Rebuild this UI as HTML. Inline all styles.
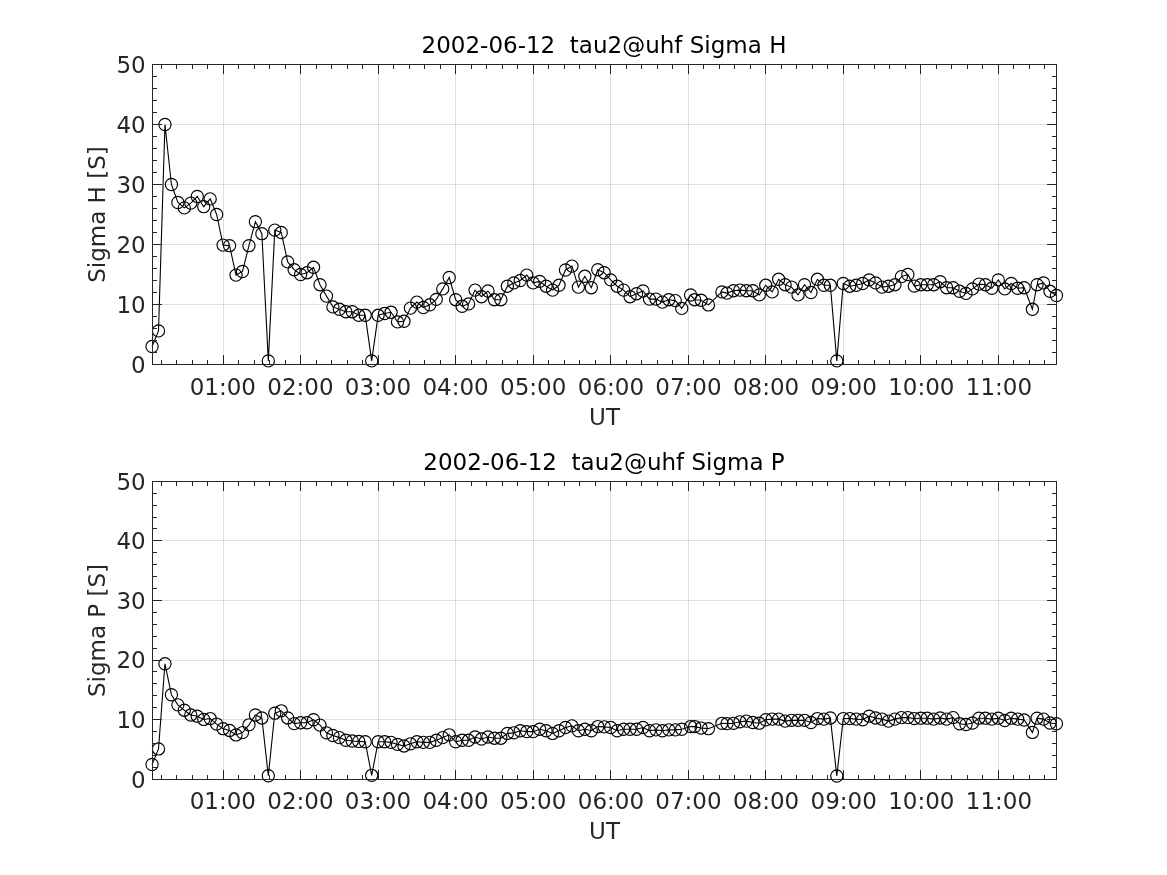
<!DOCTYPE html>
<html><head><meta charset="utf-8"><title>Sigma H / Sigma P</title>
<style>html,body{margin:0;padding:0;background:#fff;width:1167px;height:875px;overflow:hidden}</style>
</head><body>
<svg width="1167" height="875" viewBox="0 0 1167 875" style="display:block;font-family:'DejaVu Sans',sans-serif;font-size:23px;will-change:transform">
<rect width="1167" height="875" fill="#fff"/>
<path d="M223.5 64.5V364.5M300.5 64.5V364.5M378.5 64.5V364.5M455.5 64.5V364.5M533.5 64.5V364.5M610.5 64.5V364.5M688.5 64.5V364.5M765.5 64.5V364.5M843.5 64.5V364.5M920.5 64.5V364.5M998.5 64.5V364.5" stroke="#262626" stroke-opacity="0.15" stroke-width="1" fill="none" shape-rendering="crispEdges"/>
<path d="M152.5 304.5H1056.5M152.5 244.5H1056.5M152.5 184.5H1056.5M152.5 124.5H1056.5" stroke="#262626" stroke-opacity="0.15" stroke-width="1" fill="none" shape-rendering="crispEdges"/>
<path d="M152.04 346.50 L158.50 330.90 L164.96 124.50 L171.42 184.50 L177.88 202.50 L184.34 207.90 L190.80 203.10 L197.26 196.50 L203.72 206.70 L210.18 198.90 L216.64 214.50 L223.10 245.10 L229.56 245.70 L236.02 275.10 L242.48 271.50 L248.94 245.70 L255.40 221.70 L261.86 233.70 L268.32 360.90 L274.78 230.10 L281.24 232.50 L287.70 261.90 L294.16 269.70 L300.62 274.50 L307.08 272.70 L313.54 267.30 L320.00 284.70 L326.46 296.10 L332.92 306.90 L339.38 309.30 L345.84 311.70 L352.30 311.70 L358.76 315.30 L365.22 315.30 L371.68 360.90 L378.14 315.30 L384.60 313.50 L391.06 312.30 L397.52 321.90 L403.98 321.30 L410.44 308.10 L416.90 302.10 L423.36 307.50 L429.82 304.80 L436.28 299.40 L442.74 288.90 L449.20 277.50 L455.66 299.70 L462.12 306.30 L468.58 303.90 L475.04 290.10 L481.50 296.70 L487.96 291.00 L494.42 299.70 L500.88 299.70 L507.34 286.20 L513.80 282.90 L520.26 280.50 L526.72 275.10 L533.18 282.90 L539.64 281.40 L546.10 286.20 L552.56 290.10 L559.02 285.30 L565.48 270.00 L571.94 266.10 L578.40 287.10 L584.86 276.30 L591.32 287.70 L597.78 269.70 L604.24 272.70 L610.70 279.90 L617.16 286.20 L623.62 290.10 L630.08 296.70 L636.54 293.70 L643.00 291.00 L649.46 299.10 L655.92 299.10 L662.38 302.10 L668.84 299.70 L675.30 300.60 L681.76 308.40 L690.60 295.02 L694.68 299.70 L701.14 300.30 L708.40 304.92 L721.90 291.90 L726.98 293.10 L733.44 290.70 L739.90 290.10 L746.36 290.70 L752.82 290.70 L759.28 294.90 L765.74 285.30 L772.20 291.90 L778.66 279.30 L785.12 284.70 L791.58 287.10 L798.04 294.90 L804.50 284.70 L810.96 292.50 L817.42 279.30 L823.88 285.30 L830.34 285.30 L836.80 360.90 L843.26 283.50 L849.72 286.20 L856.18 285.30 L862.64 283.50 L869.10 279.90 L875.56 282.90 L882.02 287.10 L888.48 286.20 L894.94 284.70 L901.40 276.60 L907.86 274.50 L914.32 286.08 L920.78 284.70 L927.24 284.70 L933.70 284.70 L940.16 281.70 L946.62 287.70 L953.08 287.70 L959.54 291.30 L966.00 293.40 L972.46 288.90 L978.92 284.10 L985.38 284.70 L991.84 288.30 L998.30 279.90 L1004.76 288.90 L1011.22 283.50 L1017.68 288.30 L1024.14 287.70 L1032.40 309.30 L1037.06 284.70 L1043.52 282.90 L1049.98 291.30 L1056.44 295.50" stroke="#000" stroke-width="1.1" fill="none" stroke-linejoin="miter"/>
<g stroke="#000" stroke-width="1.15" fill="none"><circle cx="152.04" cy="346.50" r="6.1"/><circle cx="158.50" cy="330.90" r="6.1"/><circle cx="164.96" cy="124.50" r="6.1"/><circle cx="171.42" cy="184.50" r="6.1"/><circle cx="177.88" cy="202.50" r="6.1"/><circle cx="184.34" cy="207.90" r="6.1"/><circle cx="190.80" cy="203.10" r="6.1"/><circle cx="197.26" cy="196.50" r="6.1"/><circle cx="203.72" cy="206.70" r="6.1"/><circle cx="210.18" cy="198.90" r="6.1"/><circle cx="216.64" cy="214.50" r="6.1"/><circle cx="223.10" cy="245.10" r="6.1"/><circle cx="229.56" cy="245.70" r="6.1"/><circle cx="236.02" cy="275.10" r="6.1"/><circle cx="242.48" cy="271.50" r="6.1"/><circle cx="248.94" cy="245.70" r="6.1"/><circle cx="255.40" cy="221.70" r="6.1"/><circle cx="261.86" cy="233.70" r="6.1"/><circle cx="268.32" cy="360.90" r="6.1"/><circle cx="274.78" cy="230.10" r="6.1"/><circle cx="281.24" cy="232.50" r="6.1"/><circle cx="287.70" cy="261.90" r="6.1"/><circle cx="294.16" cy="269.70" r="6.1"/><circle cx="300.62" cy="274.50" r="6.1"/><circle cx="307.08" cy="272.70" r="6.1"/><circle cx="313.54" cy="267.30" r="6.1"/><circle cx="320.00" cy="284.70" r="6.1"/><circle cx="326.46" cy="296.10" r="6.1"/><circle cx="332.92" cy="306.90" r="6.1"/><circle cx="339.38" cy="309.30" r="6.1"/><circle cx="345.84" cy="311.70" r="6.1"/><circle cx="352.30" cy="311.70" r="6.1"/><circle cx="358.76" cy="315.30" r="6.1"/><circle cx="365.22" cy="315.30" r="6.1"/><circle cx="371.68" cy="360.90" r="6.1"/><circle cx="378.14" cy="315.30" r="6.1"/><circle cx="384.60" cy="313.50" r="6.1"/><circle cx="391.06" cy="312.30" r="6.1"/><circle cx="397.52" cy="321.90" r="6.1"/><circle cx="403.98" cy="321.30" r="6.1"/><circle cx="410.44" cy="308.10" r="6.1"/><circle cx="416.90" cy="302.10" r="6.1"/><circle cx="423.36" cy="307.50" r="6.1"/><circle cx="429.82" cy="304.80" r="6.1"/><circle cx="436.28" cy="299.40" r="6.1"/><circle cx="442.74" cy="288.90" r="6.1"/><circle cx="449.20" cy="277.50" r="6.1"/><circle cx="455.66" cy="299.70" r="6.1"/><circle cx="462.12" cy="306.30" r="6.1"/><circle cx="468.58" cy="303.90" r="6.1"/><circle cx="475.04" cy="290.10" r="6.1"/><circle cx="481.50" cy="296.70" r="6.1"/><circle cx="487.96" cy="291.00" r="6.1"/><circle cx="494.42" cy="299.70" r="6.1"/><circle cx="500.88" cy="299.70" r="6.1"/><circle cx="507.34" cy="286.20" r="6.1"/><circle cx="513.80" cy="282.90" r="6.1"/><circle cx="520.26" cy="280.50" r="6.1"/><circle cx="526.72" cy="275.10" r="6.1"/><circle cx="533.18" cy="282.90" r="6.1"/><circle cx="539.64" cy="281.40" r="6.1"/><circle cx="546.10" cy="286.20" r="6.1"/><circle cx="552.56" cy="290.10" r="6.1"/><circle cx="559.02" cy="285.30" r="6.1"/><circle cx="565.48" cy="270.00" r="6.1"/><circle cx="571.94" cy="266.10" r="6.1"/><circle cx="578.40" cy="287.10" r="6.1"/><circle cx="584.86" cy="276.30" r="6.1"/><circle cx="591.32" cy="287.70" r="6.1"/><circle cx="597.78" cy="269.70" r="6.1"/><circle cx="604.24" cy="272.70" r="6.1"/><circle cx="610.70" cy="279.90" r="6.1"/><circle cx="617.16" cy="286.20" r="6.1"/><circle cx="623.62" cy="290.10" r="6.1"/><circle cx="630.08" cy="296.70" r="6.1"/><circle cx="636.54" cy="293.70" r="6.1"/><circle cx="643.00" cy="291.00" r="6.1"/><circle cx="649.46" cy="299.10" r="6.1"/><circle cx="655.92" cy="299.10" r="6.1"/><circle cx="662.38" cy="302.10" r="6.1"/><circle cx="668.84" cy="299.70" r="6.1"/><circle cx="675.30" cy="300.60" r="6.1"/><circle cx="681.76" cy="308.40" r="6.1"/><circle cx="690.60" cy="295.02" r="6.1"/><circle cx="694.68" cy="299.70" r="6.1"/><circle cx="701.14" cy="300.30" r="6.1"/><circle cx="708.40" cy="304.92" r="6.1"/><circle cx="721.90" cy="291.90" r="6.1"/><circle cx="726.98" cy="293.10" r="6.1"/><circle cx="733.44" cy="290.70" r="6.1"/><circle cx="739.90" cy="290.10" r="6.1"/><circle cx="746.36" cy="290.70" r="6.1"/><circle cx="752.82" cy="290.70" r="6.1"/><circle cx="759.28" cy="294.90" r="6.1"/><circle cx="765.74" cy="285.30" r="6.1"/><circle cx="772.20" cy="291.90" r="6.1"/><circle cx="778.66" cy="279.30" r="6.1"/><circle cx="785.12" cy="284.70" r="6.1"/><circle cx="791.58" cy="287.10" r="6.1"/><circle cx="798.04" cy="294.90" r="6.1"/><circle cx="804.50" cy="284.70" r="6.1"/><circle cx="810.96" cy="292.50" r="6.1"/><circle cx="817.42" cy="279.30" r="6.1"/><circle cx="823.88" cy="285.30" r="6.1"/><circle cx="830.34" cy="285.30" r="6.1"/><circle cx="836.80" cy="360.90" r="6.1"/><circle cx="843.26" cy="283.50" r="6.1"/><circle cx="849.72" cy="286.20" r="6.1"/><circle cx="856.18" cy="285.30" r="6.1"/><circle cx="862.64" cy="283.50" r="6.1"/><circle cx="869.10" cy="279.90" r="6.1"/><circle cx="875.56" cy="282.90" r="6.1"/><circle cx="882.02" cy="287.10" r="6.1"/><circle cx="888.48" cy="286.20" r="6.1"/><circle cx="894.94" cy="284.70" r="6.1"/><circle cx="901.40" cy="276.60" r="6.1"/><circle cx="907.86" cy="274.50" r="6.1"/><circle cx="914.32" cy="286.08" r="6.1"/><circle cx="920.78" cy="284.70" r="6.1"/><circle cx="927.24" cy="284.70" r="6.1"/><circle cx="933.70" cy="284.70" r="6.1"/><circle cx="940.16" cy="281.70" r="6.1"/><circle cx="946.62" cy="287.70" r="6.1"/><circle cx="953.08" cy="287.70" r="6.1"/><circle cx="959.54" cy="291.30" r="6.1"/><circle cx="966.00" cy="293.40" r="6.1"/><circle cx="972.46" cy="288.90" r="6.1"/><circle cx="978.92" cy="284.10" r="6.1"/><circle cx="985.38" cy="284.70" r="6.1"/><circle cx="991.84" cy="288.30" r="6.1"/><circle cx="998.30" cy="279.90" r="6.1"/><circle cx="1004.76" cy="288.90" r="6.1"/><circle cx="1011.22" cy="283.50" r="6.1"/><circle cx="1017.68" cy="288.30" r="6.1"/><circle cx="1024.14" cy="287.70" r="6.1"/><circle cx="1032.40" cy="309.30" r="6.1"/><circle cx="1037.06" cy="284.70" r="6.1"/><circle cx="1043.52" cy="282.90" r="6.1"/><circle cx="1049.98" cy="291.30" r="6.1"/><circle cx="1056.44" cy="295.50" r="6.1"/></g>
<path d="M152.5 64.5H1056.5V364.5H152.5ZM223.5 364.5v-9.5M223.5 64.5v9.5M300.5 364.5v-9.5M300.5 64.5v9.5M378.5 364.5v-9.5M378.5 64.5v9.5M455.5 364.5v-9.5M455.5 64.5v9.5M533.5 364.5v-9.5M533.5 64.5v9.5M610.5 364.5v-9.5M610.5 64.5v9.5M688.5 364.5v-9.5M688.5 64.5v9.5M765.5 364.5v-9.5M765.5 64.5v9.5M843.5 364.5v-9.5M843.5 64.5v9.5M920.5 364.5v-9.5M920.5 64.5v9.5M998.5 364.5v-9.5M998.5 64.5v9.5M161.5 364.5v-4.5M161.5 64.5v4.5M176.5 364.5v-4.5M176.5 64.5v4.5M192.5 364.5v-4.5M192.5 64.5v4.5M207.5 364.5v-4.5M207.5 64.5v4.5M238.5 364.5v-4.5M238.5 64.5v4.5M254.5 364.5v-4.5M254.5 64.5v4.5M269.5 364.5v-4.5M269.5 64.5v4.5M285.5 364.5v-4.5M285.5 64.5v4.5M316.5 364.5v-4.5M316.5 64.5v4.5M331.5 364.5v-4.5M331.5 64.5v4.5M347.5 364.5v-4.5M347.5 64.5v4.5M362.5 364.5v-4.5M362.5 64.5v4.5M393.5 364.5v-4.5M393.5 64.5v4.5M409.5 364.5v-4.5M409.5 64.5v4.5M424.5 364.5v-4.5M424.5 64.5v4.5M440.5 364.5v-4.5M440.5 64.5v4.5M471.5 364.5v-4.5M471.5 64.5v4.5M486.5 364.5v-4.5M486.5 64.5v4.5M502.5 364.5v-4.5M502.5 64.5v4.5M517.5 364.5v-4.5M517.5 64.5v4.5M548.5 364.5v-4.5M548.5 64.5v4.5M564.5 364.5v-4.5M564.5 64.5v4.5M579.5 364.5v-4.5M579.5 64.5v4.5M595.5 364.5v-4.5M595.5 64.5v4.5M626.5 364.5v-4.5M626.5 64.5v4.5M641.5 364.5v-4.5M641.5 64.5v4.5M657.5 364.5v-4.5M657.5 64.5v4.5M672.5 364.5v-4.5M672.5 64.5v4.5M703.5 364.5v-4.5M703.5 64.5v4.5M719.5 364.5v-4.5M719.5 64.5v4.5M734.5 364.5v-4.5M734.5 64.5v4.5M750.5 364.5v-4.5M750.5 64.5v4.5M781.5 364.5v-4.5M781.5 64.5v4.5M796.5 364.5v-4.5M796.5 64.5v4.5M812.5 364.5v-4.5M812.5 64.5v4.5M827.5 364.5v-4.5M827.5 64.5v4.5M858.5 364.5v-4.5M858.5 64.5v4.5M874.5 364.5v-4.5M874.5 64.5v4.5M889.5 364.5v-4.5M889.5 64.5v4.5M905.5 364.5v-4.5M905.5 64.5v4.5M936.5 364.5v-4.5M936.5 64.5v4.5M951.5 364.5v-4.5M951.5 64.5v4.5M967.5 364.5v-4.5M967.5 64.5v4.5M982.5 364.5v-4.5M982.5 64.5v4.5M1013.5 364.5v-4.5M1013.5 64.5v4.5M1029.5 364.5v-4.5M1029.5 64.5v4.5M1044.5 364.5v-4.5M1044.5 64.5v4.5M152.5 364.5h9.5M1056.5 364.5h-9.5M152.5 304.5h9.5M1056.5 304.5h-9.5M152.5 244.5h9.5M1056.5 244.5h-9.5M152.5 184.5h9.5M1056.5 184.5h-9.5M152.5 124.5h9.5M1056.5 124.5h-9.5M152.5 64.5h9.5M1056.5 64.5h-9.5M152.5 352.5h4.5M1056.5 352.5h-4.5M152.5 340.5h4.5M1056.5 340.5h-4.5M152.5 328.5h4.5M1056.5 328.5h-4.5M152.5 316.5h4.5M1056.5 316.5h-4.5M152.5 292.5h4.5M1056.5 292.5h-4.5M152.5 280.5h4.5M1056.5 280.5h-4.5M152.5 268.5h4.5M1056.5 268.5h-4.5M152.5 256.5h4.5M1056.5 256.5h-4.5M152.5 232.5h4.5M1056.5 232.5h-4.5M152.5 220.5h4.5M1056.5 220.5h-4.5M152.5 208.5h4.5M1056.5 208.5h-4.5M152.5 196.5h4.5M1056.5 196.5h-4.5M152.5 172.5h4.5M1056.5 172.5h-4.5M152.5 160.5h4.5M1056.5 160.5h-4.5M152.5 148.5h4.5M1056.5 148.5h-4.5M152.5 136.5h4.5M1056.5 136.5h-4.5M152.5 112.5h4.5M1056.5 112.5h-4.5M152.5 100.5h4.5M1056.5 100.5h-4.5M152.5 88.5h4.5M1056.5 88.5h-4.5M152.5 76.5h4.5M1056.5 76.5h-4.5" stroke="#262626" stroke-width="1" fill="none" shape-rendering="crispEdges"/>
<g fill="#262626"><text x="145.7" y="372.9" text-anchor="end">0</text><text x="145.7" y="312.9" text-anchor="end">10</text><text x="145.7" y="252.9" text-anchor="end">20</text><text x="145.7" y="192.9" text-anchor="end">30</text><text x="145.7" y="132.9" text-anchor="end">40</text><text x="145.7" y="72.9" text-anchor="end">50</text><text x="222.8" y="395" text-anchor="middle">01:00</text><text x="300.4" y="395" text-anchor="middle">02:00</text><text x="378.0" y="395" text-anchor="middle">03:00</text><text x="455.6" y="395" text-anchor="middle">04:00</text><text x="533.2" y="395" text-anchor="middle">05:00</text><text x="610.9" y="395" text-anchor="middle">06:00</text><text x="688.5" y="395" text-anchor="middle">07:00</text><text x="766.1" y="395" text-anchor="middle">08:00</text><text x="843.7" y="395" text-anchor="middle">09:00</text><text x="921.3" y="395" text-anchor="middle">10:00</text><text x="998.9" y="395" text-anchor="middle">11:00</text><text x="604.5" y="425" text-anchor="middle">UT</text><text transform="translate(105 214.5) rotate(-90)" text-anchor="middle">Sigma H [S]</text></g>
<text x="604" y="53" text-anchor="middle" fill="#000" xml:space="preserve">2002-06-12  tau2@uhf Sigma H</text>
<path d="M223.5 481.5V779.5M300.5 481.5V779.5M378.5 481.5V779.5M455.5 481.5V779.5M533.5 481.5V779.5M610.5 481.5V779.5M688.5 481.5V779.5M765.5 481.5V779.5M843.5 481.5V779.5M920.5 481.5V779.5M998.5 481.5V779.5" stroke="#262626" stroke-opacity="0.15" stroke-width="1" fill="none" shape-rendering="crispEdges"/>
<path d="M152.5 719.5H1056.5M152.5 660.5H1056.5M152.5 600.5H1056.5M152.5 540.5H1056.5" stroke="#262626" stroke-opacity="0.15" stroke-width="1" fill="none" shape-rendering="crispEdges"/>
<path d="M152.04 764.53 L158.50 748.92 L164.96 663.75 L171.42 694.72 L177.88 704.85 L184.34 710.21 L190.80 714.98 L197.26 716.17 L203.72 719.44 L210.18 718.55 L216.64 724.09 L223.10 728.67 L229.56 730.46 L236.02 734.93 L242.48 732.60 L248.94 724.80 L255.40 714.98 L261.86 717.95 L268.32 775.73 L274.78 713.19 L281.24 710.81 L287.70 717.95 L294.16 723.61 L300.62 722.72 L307.08 722.72 L313.54 719.74 L320.00 725.10 L326.46 732.84 L332.92 735.52 L339.38 737.61 L345.84 740.29 L352.30 741.00 L358.76 741.42 L365.22 741.78 L371.68 775.31 L378.14 741.78 L384.60 741.78 L391.06 742.37 L397.52 744.40 L403.98 745.95 L410.44 743.80 L416.90 741.78 L423.36 742.37 L429.82 742.37 L436.28 740.29 L442.74 737.61 L449.20 734.81 L455.66 741.78 L462.12 740.29 L468.58 740.29 L475.04 737.01 L481.50 738.98 L487.96 737.01 L494.42 738.20 L500.88 738.20 L507.34 733.44 L513.80 732.84 L520.26 730.76 L526.72 731.65 L533.18 731.65 L539.64 729.27 L546.10 730.76 L552.56 733.44 L559.02 730.76 L565.48 727.48 L571.94 725.87 L578.40 730.76 L584.86 729.27 L591.32 730.76 L597.78 726.59 L604.24 726.89 L610.70 727.48 L617.16 730.76 L623.62 729.27 L630.08 729.27 L636.54 729.27 L643.00 727.48 L649.46 730.76 L655.92 729.87 L662.38 730.76 L668.84 729.87 L675.30 729.87 L681.76 729.27 L690.60 726.59 L694.68 726.59 L701.14 728.08 L708.40 728.67 L721.90 723.31 L726.98 723.61 L733.44 723.31 L739.90 721.82 L746.36 721.11 L752.82 722.48 L759.28 723.19 L765.74 719.74 L772.20 719.14 L778.66 719.14 L785.12 721.11 L791.58 720.34 L798.04 720.34 L804.50 720.34 L810.96 722.48 L817.42 718.55 L823.88 719.14 L830.34 717.95 L836.80 776.02 L843.26 718.55 L849.72 718.55 L856.18 719.14 L862.64 719.74 L869.10 716.17 L875.56 717.95 L882.02 719.14 L888.48 721.11 L894.94 719.14 L901.40 717.60 L907.86 717.60 L914.32 718.55 L920.78 718.19 L927.24 718.19 L933.70 719.14 L940.16 717.95 L946.62 719.14 L953.08 717.60 L959.54 723.73 L966.00 724.50 L972.46 723.02 L978.92 718.19 L985.38 718.19 L991.84 719.14 L998.30 718.19 L1004.76 720.51 L1011.22 718.19 L1017.68 719.14 L1024.14 720.04 L1032.40 732.43 L1037.06 718.19 L1043.52 719.14 L1049.98 723.02 L1056.44 723.73" stroke="#000" stroke-width="1.1" fill="none" stroke-linejoin="miter"/>
<g stroke="#000" stroke-width="1.15" fill="none"><circle cx="152.04" cy="764.53" r="6.1"/><circle cx="158.50" cy="748.92" r="6.1"/><circle cx="164.96" cy="663.75" r="6.1"/><circle cx="171.42" cy="694.72" r="6.1"/><circle cx="177.88" cy="704.85" r="6.1"/><circle cx="184.34" cy="710.21" r="6.1"/><circle cx="190.80" cy="714.98" r="6.1"/><circle cx="197.26" cy="716.17" r="6.1"/><circle cx="203.72" cy="719.44" r="6.1"/><circle cx="210.18" cy="718.55" r="6.1"/><circle cx="216.64" cy="724.09" r="6.1"/><circle cx="223.10" cy="728.67" r="6.1"/><circle cx="229.56" cy="730.46" r="6.1"/><circle cx="236.02" cy="734.93" r="6.1"/><circle cx="242.48" cy="732.60" r="6.1"/><circle cx="248.94" cy="724.80" r="6.1"/><circle cx="255.40" cy="714.98" r="6.1"/><circle cx="261.86" cy="717.95" r="6.1"/><circle cx="268.32" cy="775.73" r="6.1"/><circle cx="274.78" cy="713.19" r="6.1"/><circle cx="281.24" cy="710.81" r="6.1"/><circle cx="287.70" cy="717.95" r="6.1"/><circle cx="294.16" cy="723.61" r="6.1"/><circle cx="300.62" cy="722.72" r="6.1"/><circle cx="307.08" cy="722.72" r="6.1"/><circle cx="313.54" cy="719.74" r="6.1"/><circle cx="320.00" cy="725.10" r="6.1"/><circle cx="326.46" cy="732.84" r="6.1"/><circle cx="332.92" cy="735.52" r="6.1"/><circle cx="339.38" cy="737.61" r="6.1"/><circle cx="345.84" cy="740.29" r="6.1"/><circle cx="352.30" cy="741.00" r="6.1"/><circle cx="358.76" cy="741.42" r="6.1"/><circle cx="365.22" cy="741.78" r="6.1"/><circle cx="371.68" cy="775.31" r="6.1"/><circle cx="378.14" cy="741.78" r="6.1"/><circle cx="384.60" cy="741.78" r="6.1"/><circle cx="391.06" cy="742.37" r="6.1"/><circle cx="397.52" cy="744.40" r="6.1"/><circle cx="403.98" cy="745.95" r="6.1"/><circle cx="410.44" cy="743.80" r="6.1"/><circle cx="416.90" cy="741.78" r="6.1"/><circle cx="423.36" cy="742.37" r="6.1"/><circle cx="429.82" cy="742.37" r="6.1"/><circle cx="436.28" cy="740.29" r="6.1"/><circle cx="442.74" cy="737.61" r="6.1"/><circle cx="449.20" cy="734.81" r="6.1"/><circle cx="455.66" cy="741.78" r="6.1"/><circle cx="462.12" cy="740.29" r="6.1"/><circle cx="468.58" cy="740.29" r="6.1"/><circle cx="475.04" cy="737.01" r="6.1"/><circle cx="481.50" cy="738.98" r="6.1"/><circle cx="487.96" cy="737.01" r="6.1"/><circle cx="494.42" cy="738.20" r="6.1"/><circle cx="500.88" cy="738.20" r="6.1"/><circle cx="507.34" cy="733.44" r="6.1"/><circle cx="513.80" cy="732.84" r="6.1"/><circle cx="520.26" cy="730.76" r="6.1"/><circle cx="526.72" cy="731.65" r="6.1"/><circle cx="533.18" cy="731.65" r="6.1"/><circle cx="539.64" cy="729.27" r="6.1"/><circle cx="546.10" cy="730.76" r="6.1"/><circle cx="552.56" cy="733.44" r="6.1"/><circle cx="559.02" cy="730.76" r="6.1"/><circle cx="565.48" cy="727.48" r="6.1"/><circle cx="571.94" cy="725.87" r="6.1"/><circle cx="578.40" cy="730.76" r="6.1"/><circle cx="584.86" cy="729.27" r="6.1"/><circle cx="591.32" cy="730.76" r="6.1"/><circle cx="597.78" cy="726.59" r="6.1"/><circle cx="604.24" cy="726.89" r="6.1"/><circle cx="610.70" cy="727.48" r="6.1"/><circle cx="617.16" cy="730.76" r="6.1"/><circle cx="623.62" cy="729.27" r="6.1"/><circle cx="630.08" cy="729.27" r="6.1"/><circle cx="636.54" cy="729.27" r="6.1"/><circle cx="643.00" cy="727.48" r="6.1"/><circle cx="649.46" cy="730.76" r="6.1"/><circle cx="655.92" cy="729.87" r="6.1"/><circle cx="662.38" cy="730.76" r="6.1"/><circle cx="668.84" cy="729.87" r="6.1"/><circle cx="675.30" cy="729.87" r="6.1"/><circle cx="681.76" cy="729.27" r="6.1"/><circle cx="690.60" cy="726.59" r="6.1"/><circle cx="694.68" cy="726.59" r="6.1"/><circle cx="701.14" cy="728.08" r="6.1"/><circle cx="708.40" cy="728.67" r="6.1"/><circle cx="721.90" cy="723.31" r="6.1"/><circle cx="726.98" cy="723.61" r="6.1"/><circle cx="733.44" cy="723.31" r="6.1"/><circle cx="739.90" cy="721.82" r="6.1"/><circle cx="746.36" cy="721.11" r="6.1"/><circle cx="752.82" cy="722.48" r="6.1"/><circle cx="759.28" cy="723.19" r="6.1"/><circle cx="765.74" cy="719.74" r="6.1"/><circle cx="772.20" cy="719.14" r="6.1"/><circle cx="778.66" cy="719.14" r="6.1"/><circle cx="785.12" cy="721.11" r="6.1"/><circle cx="791.58" cy="720.34" r="6.1"/><circle cx="798.04" cy="720.34" r="6.1"/><circle cx="804.50" cy="720.34" r="6.1"/><circle cx="810.96" cy="722.48" r="6.1"/><circle cx="817.42" cy="718.55" r="6.1"/><circle cx="823.88" cy="719.14" r="6.1"/><circle cx="830.34" cy="717.95" r="6.1"/><circle cx="836.80" cy="776.02" r="6.1"/><circle cx="843.26" cy="718.55" r="6.1"/><circle cx="849.72" cy="718.55" r="6.1"/><circle cx="856.18" cy="719.14" r="6.1"/><circle cx="862.64" cy="719.74" r="6.1"/><circle cx="869.10" cy="716.17" r="6.1"/><circle cx="875.56" cy="717.95" r="6.1"/><circle cx="882.02" cy="719.14" r="6.1"/><circle cx="888.48" cy="721.11" r="6.1"/><circle cx="894.94" cy="719.14" r="6.1"/><circle cx="901.40" cy="717.60" r="6.1"/><circle cx="907.86" cy="717.60" r="6.1"/><circle cx="914.32" cy="718.55" r="6.1"/><circle cx="920.78" cy="718.19" r="6.1"/><circle cx="927.24" cy="718.19" r="6.1"/><circle cx="933.70" cy="719.14" r="6.1"/><circle cx="940.16" cy="717.95" r="6.1"/><circle cx="946.62" cy="719.14" r="6.1"/><circle cx="953.08" cy="717.60" r="6.1"/><circle cx="959.54" cy="723.73" r="6.1"/><circle cx="966.00" cy="724.50" r="6.1"/><circle cx="972.46" cy="723.02" r="6.1"/><circle cx="978.92" cy="718.19" r="6.1"/><circle cx="985.38" cy="718.19" r="6.1"/><circle cx="991.84" cy="719.14" r="6.1"/><circle cx="998.30" cy="718.19" r="6.1"/><circle cx="1004.76" cy="720.51" r="6.1"/><circle cx="1011.22" cy="718.19" r="6.1"/><circle cx="1017.68" cy="719.14" r="6.1"/><circle cx="1024.14" cy="720.04" r="6.1"/><circle cx="1032.40" cy="732.43" r="6.1"/><circle cx="1037.06" cy="718.19" r="6.1"/><circle cx="1043.52" cy="719.14" r="6.1"/><circle cx="1049.98" cy="723.02" r="6.1"/><circle cx="1056.44" cy="723.73" r="6.1"/></g>
<path d="M152.5 481.5H1056.5V779.5H152.5ZM223.5 779.5v-9.5M223.5 481.5v9.5M300.5 779.5v-9.5M300.5 481.5v9.5M378.5 779.5v-9.5M378.5 481.5v9.5M455.5 779.5v-9.5M455.5 481.5v9.5M533.5 779.5v-9.5M533.5 481.5v9.5M610.5 779.5v-9.5M610.5 481.5v9.5M688.5 779.5v-9.5M688.5 481.5v9.5M765.5 779.5v-9.5M765.5 481.5v9.5M843.5 779.5v-9.5M843.5 481.5v9.5M920.5 779.5v-9.5M920.5 481.5v9.5M998.5 779.5v-9.5M998.5 481.5v9.5M161.5 779.5v-4.5M161.5 481.5v4.5M176.5 779.5v-4.5M176.5 481.5v4.5M192.5 779.5v-4.5M192.5 481.5v4.5M207.5 779.5v-4.5M207.5 481.5v4.5M238.5 779.5v-4.5M238.5 481.5v4.5M254.5 779.5v-4.5M254.5 481.5v4.5M269.5 779.5v-4.5M269.5 481.5v4.5M285.5 779.5v-4.5M285.5 481.5v4.5M316.5 779.5v-4.5M316.5 481.5v4.5M331.5 779.5v-4.5M331.5 481.5v4.5M347.5 779.5v-4.5M347.5 481.5v4.5M362.5 779.5v-4.5M362.5 481.5v4.5M393.5 779.5v-4.5M393.5 481.5v4.5M409.5 779.5v-4.5M409.5 481.5v4.5M424.5 779.5v-4.5M424.5 481.5v4.5M440.5 779.5v-4.5M440.5 481.5v4.5M471.5 779.5v-4.5M471.5 481.5v4.5M486.5 779.5v-4.5M486.5 481.5v4.5M502.5 779.5v-4.5M502.5 481.5v4.5M517.5 779.5v-4.5M517.5 481.5v4.5M548.5 779.5v-4.5M548.5 481.5v4.5M564.5 779.5v-4.5M564.5 481.5v4.5M579.5 779.5v-4.5M579.5 481.5v4.5M595.5 779.5v-4.5M595.5 481.5v4.5M626.5 779.5v-4.5M626.5 481.5v4.5M641.5 779.5v-4.5M641.5 481.5v4.5M657.5 779.5v-4.5M657.5 481.5v4.5M672.5 779.5v-4.5M672.5 481.5v4.5M703.5 779.5v-4.5M703.5 481.5v4.5M719.5 779.5v-4.5M719.5 481.5v4.5M734.5 779.5v-4.5M734.5 481.5v4.5M750.5 779.5v-4.5M750.5 481.5v4.5M781.5 779.5v-4.5M781.5 481.5v4.5M796.5 779.5v-4.5M796.5 481.5v4.5M812.5 779.5v-4.5M812.5 481.5v4.5M827.5 779.5v-4.5M827.5 481.5v4.5M858.5 779.5v-4.5M858.5 481.5v4.5M874.5 779.5v-4.5M874.5 481.5v4.5M889.5 779.5v-4.5M889.5 481.5v4.5M905.5 779.5v-4.5M905.5 481.5v4.5M936.5 779.5v-4.5M936.5 481.5v4.5M951.5 779.5v-4.5M951.5 481.5v4.5M967.5 779.5v-4.5M967.5 481.5v4.5M982.5 779.5v-4.5M982.5 481.5v4.5M1013.5 779.5v-4.5M1013.5 481.5v4.5M1029.5 779.5v-4.5M1029.5 481.5v4.5M1044.5 779.5v-4.5M1044.5 481.5v4.5M152.5 779.5h9.5M1056.5 779.5h-9.5M152.5 719.5h9.5M1056.5 719.5h-9.5M152.5 660.5h9.5M1056.5 660.5h-9.5M152.5 600.5h9.5M1056.5 600.5h-9.5M152.5 540.5h9.5M1056.5 540.5h-9.5M152.5 481.5h9.5M1056.5 481.5h-9.5M152.5 767.5h4.5M1056.5 767.5h-4.5M152.5 755.5h4.5M1056.5 755.5h-4.5M152.5 743.5h4.5M1056.5 743.5h-4.5M152.5 731.5h4.5M1056.5 731.5h-4.5M152.5 707.5h4.5M1056.5 707.5h-4.5M152.5 695.5h4.5M1056.5 695.5h-4.5M152.5 683.5h4.5M1056.5 683.5h-4.5M152.5 671.5h4.5M1056.5 671.5h-4.5M152.5 648.5h4.5M1056.5 648.5h-4.5M152.5 636.5h4.5M1056.5 636.5h-4.5M152.5 624.5h4.5M1056.5 624.5h-4.5M152.5 612.5h4.5M1056.5 612.5h-4.5M152.5 588.5h4.5M1056.5 588.5h-4.5M152.5 576.5h4.5M1056.5 576.5h-4.5M152.5 564.5h4.5M1056.5 564.5h-4.5M152.5 552.5h4.5M1056.5 552.5h-4.5M152.5 528.5h4.5M1056.5 528.5h-4.5M152.5 517.5h4.5M1056.5 517.5h-4.5M152.5 505.5h4.5M1056.5 505.5h-4.5M152.5 493.5h4.5M1056.5 493.5h-4.5" stroke="#262626" stroke-width="1" fill="none" shape-rendering="crispEdges"/>
<g fill="#262626"><text x="145.7" y="787.5" text-anchor="end">0</text><text x="145.7" y="728.0" text-anchor="end">10</text><text x="145.7" y="668.4" text-anchor="end">20</text><text x="145.7" y="608.9" text-anchor="end">30</text><text x="145.7" y="549.3" text-anchor="end">40</text><text x="145.7" y="489.7" text-anchor="end">50</text><text x="222.8" y="809" text-anchor="middle">01:00</text><text x="300.4" y="809" text-anchor="middle">02:00</text><text x="378.0" y="809" text-anchor="middle">03:00</text><text x="455.6" y="809" text-anchor="middle">04:00</text><text x="533.2" y="809" text-anchor="middle">05:00</text><text x="610.9" y="809" text-anchor="middle">06:00</text><text x="688.5" y="809" text-anchor="middle">07:00</text><text x="766.1" y="809" text-anchor="middle">08:00</text><text x="843.7" y="809" text-anchor="middle">09:00</text><text x="921.3" y="809" text-anchor="middle">10:00</text><text x="998.9" y="809" text-anchor="middle">11:00</text><text x="604.5" y="839" text-anchor="middle">UT</text><text transform="translate(105 630.5) rotate(-90)" text-anchor="middle">Sigma P [S]</text></g>
<text x="604" y="469.5" text-anchor="middle" fill="#000" xml:space="preserve">2002-06-12  tau2@uhf Sigma P</text>
</svg>
</body></html>
